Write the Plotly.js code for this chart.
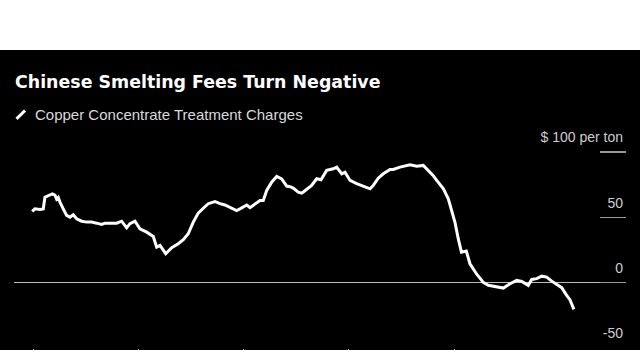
<!DOCTYPE html>
<html>
<head>
<meta charset="utf-8">
<script src="https://cdn.plot.ly/plotly-3.0.1.min.js"></script>
<style>
html,body{margin:0;padding:0;background:#ffffff;width:640px;height:350px;overflow:hidden;}
#chart{position:absolute;left:0;top:50px;width:640px;height:300px;}
</style>
</head>
<body>
<div id="chart"></div>
<script>
// Time in decimal years
const years = [2019.990,2020.016,2020.064,2020.095,2020.111,2020.143,2020.181,2020.206,2020.222,2020.238,
2020.254,2020.285,2020.317,2020.349,2020.380,2020.413,2020.460,2020.508,2020.555,2020.603,
2020.650,2020.682,2020.745,2020.793,2020.840,2020.872,2020.888,2020.919,2020.951,2020.967,
2021.014,2021.078,2021.141,2021.173,2021.205,2021.259,2021.316,2021.378,2021.426,2021.473,
2021.521,2021.568,2021.616,2021.663,2021.727,2021.775,2021.822,2021.870,2021.933,2021.965,
2022.029,2022.060,2022.108,2022.155,2022.186,2022.219,2022.266,2022.314,2022.361,2022.409,
2022.440,2022.471,2022.519,2022.551,2022.567,2022.599,2022.646,2022.694,2022.735,2022.789,
2022.852,2022.884,2022.932,2022.963,2023.011,2023.074,2023.137,2023.201,2023.232,2023.279,
2023.327,2023.391,2023.422,2023.486,2023.581,2023.645,2023.707,2023.755,2023.802,2023.835,
2023.897,2023.945,2023.977,2024.009,2024.040,2024.070,2024.116,2024.151,2024.215,2024.278,
2024.325,2024.389,2024.468,2024.532,2024.595,2024.643,2024.690,2024.705,2024.738,2024.785,
2024.833,2024.880,2024.928,2024.975,2025.023,2025.070,2025.101,2025.139];
// Copper concentrate treatment charges, $ per ton
const charges = [54.6,56.6,56.0,56.5,65.5,66.8,68.0,67.0,64.0,65.3,
61.7,56.6,51.5,50.2,52.0,49.0,47.1,46.4,46.4,45.6,
44.6,45.6,45.9,45.6,47.1,43.9,42.0,45.2,46.4,47.1,
41.3,38.7,35.4,27.2,28.5,22.2,26.8,29.8,32.9,37.5,
46.4,53.3,57.0,60.5,62.2,60.5,59.5,57.9,55.3,56.5,
59.5,57.5,60.5,63.0,63.0,70.6,77.0,81.4,79.5,74.0,
73.5,72.5,69.3,68.6,69.5,71.5,74.5,79.6,78.8,86.0,
87.2,88.5,83.4,84.6,78.3,75.8,73.7,71.9,74.5,80.0,
83.4,86.7,86.7,88.5,90.3,89.2,89.8,86.0,82.0,78.3,
72.0,64.3,56.0,46.0,33.5,23.4,24.2,14.5,6.5,0.2,
-2.0,-3.0,-4.1,-0.8,1.8,1.0,-1.3,-2.0,2.5,3.1,
5.0,4.3,1.2,-1.0,-3.8,-9.7,-13.0,-20.4];

const titleText = "Chinese Smelting Fees Turn Negative";
const seriesName = "Copper Concentrate Treatment Charges";
const yTickVals = [-50, 0, 50, 100];
const yTickText = ["-50", "0", "50", "$ 100 per ton"];
const xTickVals = [2020, 2021, 2022, 2023, 2024, 2025];

const trace = {
  x: years, y: charges, type: "scatter", mode: "lines", name: seriesName,
  line: {color: "#ffffff", width: 3}, showlegend: false, hoverinfo: "skip"
};

const layout = {
  width: 640, height: 300,
  paper_bgcolor: "#000000", plot_bgcolor: "#000000",
  margin: {l: 14, r: 14, t: 75.6, b: 2.3, pad: 0},
  title: {
    text: titleText, xref: "container", yref: "container",
    x: 15/640, xanchor: "left", y: 1 - 31.5/300, yanchor: "middle",
    font: {family: "DejaVu Sans, Verdana, sans-serif", size: 17.4, color: "#ffffff", weight: "bold"}
  },
  xaxis: {
    range: [2019.817, 2025.634], showgrid: false, zeroline: false, showline: false,
    tickvals: xTickVals, showticklabels: false, ticks: "outside", ticklen: 8, tickwidth: 1,
    tickcolor: "#cccccc", automargin: false
  },
  yaxis: {
    side: "right", range: [-50, 120], showgrid: false, showline: false,
    zeroline: true, zerolinecolor: "#bbbbbb", zerolinewidth: 1.5,
    tickvals: yTickVals, ticktext: yTickText, ticks: "inside", ticklen: 26, tickwidth: 1.5,
    tickcolor: "#999999", ticklabelposition: "inside top", ticklabelshift: -4, automargin: false,
    tickfont: {family: "Liberation Sans, Arial, sans-serif", size: 14, color: "#cccccc"}
  },
  shapes: [{
    type: "line", xref: "paper", yref: "paper",
    x0: 0.0041, y0: 1.032, x1: 0.018, y1: 1.070,
    line: {color: "#ffffff", width: 3}
  }],
  annotations: [{
    text: seriesName, xref: "paper", yref: "paper", x: 0.031, y: 1.052,
    xanchor: "left", yanchor: "middle", showarrow: false,
    font: {family: "Liberation Sans, Arial, sans-serif", size: 15, color: "#d9d9d9"}
  }]
};

Plotly.newPlot("chart", [trace], layout, {displayModeBar: false, staticPlot: true});
</script>
</body>
</html>
